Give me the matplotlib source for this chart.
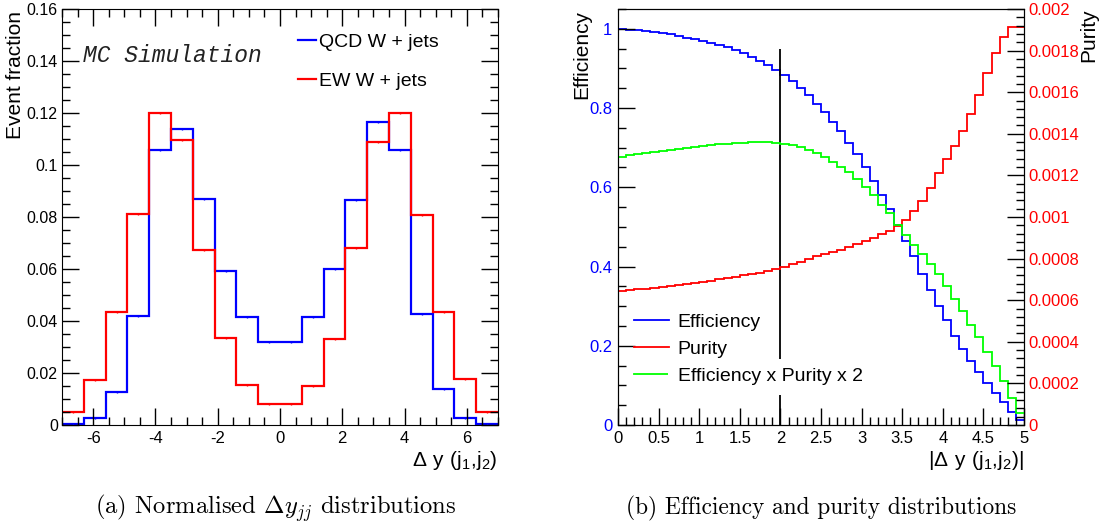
import numpy as np
import matplotlib
matplotlib.use("Agg")
import matplotlib.pyplot as plt
from matplotlib.lines import Line2D
from matplotlib.ticker import MultipleLocator, FuncFormatter

plt.rcParams['font.family'] = ['Liberation Sans', 'DejaVu Sans']
plt.rcParams['axes.unicode_minus'] = False

# (a) normalised delta-y distributions, 20 bins from -7 to 7
dy_edges = np.linspace(-7, 7, 21)
qcd_frac = [0.0005, 0.0028, 0.0128, 0.0420, 0.1058, 0.1140, 0.0870, 0.0593, 0.0414, 0.0320,
            0.0320, 0.0417, 0.0599, 0.0865, 0.1167, 0.1058, 0.0426, 0.0137, 0.0026, 0.0005]
ew_frac = [0.0050, 0.0173, 0.0433, 0.0812, 0.1200, 0.1095, 0.0673, 0.0333, 0.0154, 0.0082,
           0.0082, 0.0150, 0.0330, 0.0680, 0.1088, 0.1200, 0.0809, 0.0433, 0.0177, 0.0049]
frac_err = 0.0004
hist_labels = ['QCD W + jets', 'EW W + jets']

# (b) efficiency / purity vs |delta y| cut, 50 bins from 0 to 5
absdy_edges = np.linspace(0, 5, 51)
efficiency = [0.999, 0.998, 0.996, 0.994, 0.992, 0.989, 0.986, 0.982, 0.978, 0.974,
              0.969, 0.964, 0.959, 0.953, 0.946, 0.938, 0.929, 0.919, 0.908, 0.896,
              0.883, 0.868, 0.851, 0.832, 0.811, 0.790, 0.766, 0.741, 0.712, 0.683,
              0.651, 0.617, 0.581, 0.544, 0.504, 0.464, 0.426, 0.382, 0.340, 0.301,
              0.265, 0.225, 0.193, 0.161, 0.134, 0.105, 0.080, 0.057, 0.034, 0.013]
purity = [0.000644, 0.000648, 0.000652, 0.000656, 0.000660, 0.000664, 0.000669, 0.000673, 0.000678, 0.000683,
          0.000688, 0.000694, 0.000700, 0.000706, 0.000712, 0.000719, 0.000726, 0.000733, 0.000741, 0.000750,
          0.000762, 0.000772, 0.000784, 0.000797, 0.000811, 0.000822, 0.000832, 0.000843, 0.000855, 0.000869,
          0.000884, 0.000900, 0.000917, 0.000935, 0.000957, 0.000986, 0.001030, 0.001077, 0.001138, 0.001210,
          0.001279, 0.001343, 0.001415, 0.001495, 0.001587, 0.001694, 0.001790, 0.001867, 0.001912, 0.001915]
eff_pur_x2 = [0.001290, 0.001296, 0.001302, 0.001308, 0.001313, 0.001318, 0.001323, 0.001328, 0.001333, 0.001338,
              0.001342, 0.001346, 0.001350, 0.001353, 0.001356, 0.001358, 0.001360, 0.001360, 0.001359, 0.001357,
              0.001352, 0.001345, 0.001335, 0.001322, 0.001306, 0.001287, 0.001266, 0.001242, 0.001215, 0.001184,
              0.001146, 0.001105, 0.001060, 0.001017, 0.000963, 0.000913, 0.000866, 0.000821, 0.000776, 0.000724,
              0.000667, 0.000608, 0.000547, 0.000483, 0.000424, 0.000352, 0.000285, 0.000211, 0.000131, 0.000058]
curve_labels = ['Efficiency', 'Purity', 'Efficiency x Purity x 2']
cut_value = 2.0
cut_top = 0.95

W, H = 1105, 528
fig = plt.figure(figsize=(W / 100, H / 100), dpi=100)


def box(x0, y0, x1, y1):
    # pixel box (top-left origin) -> figure fraction rect
    return [x0 / W, 1 - y1 / H, (x1 - x0) / W, (y1 - y0) / H]


def pos(x, y):
    return x / W, 1 - y / H


def fmt(v, _):
    return '%g' % round(v, 6)


BLUE, RED, GREEN = '#0000ff', '#ff0000', '#00ff00'

# ---------- left panel ----------
ax1 = fig.add_axes(box(62, 9, 498, 425))
centres = 0.5 * (dy_edges[1:] + dy_edges[:-1])
ax1.stairs(qcd_frac, dy_edges, color=BLUE, lw=1.6, baseline=None)
ax1.errorbar(centres, qcd_frac, yerr=frac_err, fmt='none', ecolor=BLUE, elinewidth=1)
ax1.stairs(ew_frac, dy_edges, color=RED, lw=1.6, baseline=None)
ax1.errorbar(centres, ew_frac, yerr=frac_err, fmt='none', ecolor=RED, elinewidth=1)
ax1.set_xlim(-7, 7)
ax1.set_ylim(0, 0.16)
ax1.xaxis.set_major_locator(MultipleLocator(2))
ax1.xaxis.set_minor_locator(MultipleLocator(0.5))
ax1.yaxis.set_major_locator(MultipleLocator(0.02))
ax1.yaxis.set_minor_locator(MultipleLocator(0.005))
ax1.xaxis.set_major_formatter(FuncFormatter(fmt))
ax1.yaxis.set_major_formatter(FuncFormatter(fmt))
ax1.tick_params(which='both', direction='in', top=True, right=True, labelsize=12, width=1)
ax1.tick_params(which='major', length=12, pad=4)
ax1.tick_params(which='minor', length=6)
ax1.tick_params(axis='y', labelsize=11.5, pad=3)
h1 = [Line2D([], [], color=BLUE, lw=1.6), Line2D([], [], color=RED, lw=1.6)]
ax1.legend(h1, hist_labels, loc='upper left', bbox_to_anchor=pos(298, 33),
           bbox_transform=fig.transFigure, frameon=False, fontsize=14,
           handlelength=0.95, handletextpad=0.15, labelspacing=1.1,
           borderpad=0, borderaxespad=0)
fig.text(*pos(83, 56), 'MC Simulation', family='Liberation Mono', style='italic',
         fontsize=16.5, color='#222222', ha='left', va='center')
fig.text(*pos(16, 11), 'Event fraction', rotation=90, fontsize=15, ha='center', va='top')
fig.text(*pos(497, 449), r'$\mathregular{\Delta\ y\ (j_1{,}j_2)}$', fontsize=15, ha='right', va='top')

# ---------- right panel ----------
ax2 = fig.add_axes(box(618, 9, 1024, 425))
ax3 = ax2.twinx()
ax2.stairs(efficiency, absdy_edges, color=BLUE, lw=1.3, baseline=None)
ax3.stairs(purity, absdy_edges, color=RED, lw=1.3, baseline=None)
ax3.stairs(eff_pur_x2, absdy_edges, color=GREEN, lw=1.3, baseline=None)
ax2.vlines(cut_value, 0, cut_top, color='black', lw=1.3)
ax2.set_xlim(0, 5)
ax2.set_ylim(0, 1.05)
ax3.set_ylim(0, 0.002)
ax2.xaxis.set_major_locator(MultipleLocator(0.5))
ax2.xaxis.set_minor_locator(MultipleLocator(0.1))
ax2.yaxis.set_major_locator(MultipleLocator(0.2))
ax2.yaxis.set_minor_locator(MultipleLocator(0.05))
ax3.yaxis.set_major_locator(MultipleLocator(0.0002))
ax3.yaxis.set_minor_locator(MultipleLocator(0.00004))
for a in (ax2, ax3):
    a.xaxis.set_major_formatter(FuncFormatter(fmt))
    a.yaxis.set_major_formatter(FuncFormatter(fmt))
ax2.tick_params(which='both', direction='in', top=False, right=False, labelsize=12, width=1)
ax2.tick_params(which='major', length=12, pad=4)
ax2.tick_params(which='minor', length=6)
ax2.tick_params(axis='y', labelcolor=BLUE)
ax3.tick_params(which='both', direction='in', labelsize=12, width=1, labelcolor=RED)
ax3.tick_params(which='major', length=12, pad=3)
ax3.tick_params(which='minor', length=6)
h2 = [Line2D([], [], color=c, lw=1.3) for c in (BLUE, RED, GREEN)]
leg = ax3.legend(h2, curve_labels, loc='upper left', bbox_to_anchor=pos(634, 313),
                 bbox_transform=fig.transFigure, frameon=False, fontsize=14,
                 handlelength=1.8, handletextpad=0.45, labelspacing=0.5,
                 borderpad=0, borderaxespad=0)
leg.get_texts()[2].set_bbox(dict(facecolor='white', edgecolor='none', pad=7))
fig.text(*pos(582, 10), 'Efficiency', rotation=90, fontsize=15, ha='center', va='top')
fig.text(*pos(1089, 8), 'Purity', rotation=90, fontsize=15, ha='center', va='top')
fig.text(*pos(1024, 449), r'$\mathregular{|\Delta\ y\ (j_1{,}j_2)|}$', fontsize=15, ha='right', va='top')

# captions
fig.text(*pos(276, 508), r'(a) Normalised $\Delta y_{jj}$ distributions', family='cmr10',
         math_fontfamily='cm', fontsize=17.7, ha='center', va='center')
fig.text(*pos(821, 508), '(b) Efficiency and purity distributions', family='cmr10',
         math_fontfamily='cm', fontsize=16.8, ha='center', va='center')

fig.savefig('out.png', dpi=100)
